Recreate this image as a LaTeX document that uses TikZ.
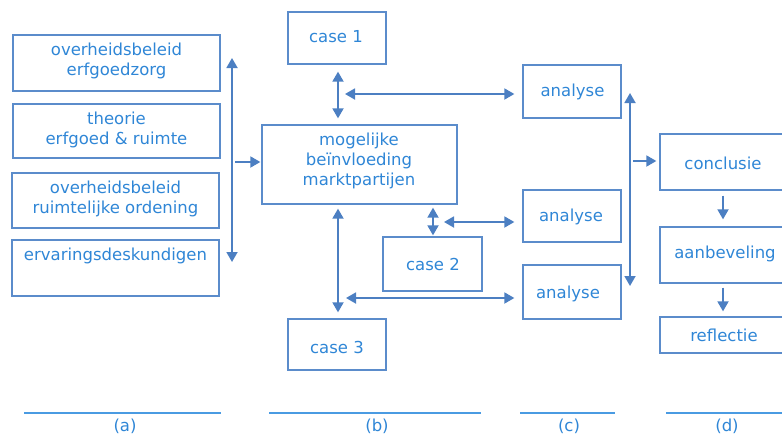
\documentclass[tikz,border=0pt]{standalone}
\usepackage{fontspec}
\setmainfont{DejaVu Sans}
\usetikzlibrary{arrows.meta,calc}
\definecolor{bordc}{HTML}{5B8CCB}
\definecolor{txtc}{HTML}{2F86D6}
\definecolor{arrc}{HTML}{4C7FC2}
\definecolor{linec}{HTML}{4A9BE2}
\begin{document}
\begin{tikzpicture}[x=1pt,y=-1pt,
  box/.style={draw=bordc,line width=1.3pt,inner sep=0pt},
  lbl/.style={text=txtc,font=\fontsize{16.5}{20}\selectfont,align=center,inner sep=0pt},
  dbl/.style={draw=arrc,line width=1.8pt,{Triangle[length=10pt,width=11pt]}-{Triangle[length=10pt,width=11pt]}},
  sgl/.style={draw=arrc,line width=1.8pt,-{Triangle[length=10pt,width=11pt]}},
  base/.style={draw=linec,line width=1.8pt}]
\clip (0,0) rectangle (782,434);
\useasboundingbox (0,0) rectangle (782,434);
% column (a)
\node[box,minimum width=207pt,minimum height=56pt] (a1) at (116.5,63) {};
\node[lbl] (ta1) at (116.5,61) {overheidsbeleid\\erfgoedzorg};
\node[box,minimum width=207pt,minimum height=54pt] (a2) at (116.5,131) {};
\node[lbl] (ta2) at (116.5,130) {theorie\\erfgoed \& ruimte};
\node[box,minimum width=207pt,minimum height=55pt] (a3) at (115.5,200.5) {};
\node[lbl] (ta3) at (115.5,199) {overheidsbeleid\\ruimtelijke ordening};
\node[box,minimum width=207pt,minimum height=56pt] (a4) at (115.5,268) {};
\node[lbl] (ta4) at (115.5,256) {ervaringsdeskundigen};
% column (b)
\node[box,minimum width=98pt,minimum height=52pt] (c1) at (337,38) {};
\node[lbl] (tc1) at (336,37) {case 1};
\node[box,minimum width=195pt,minimum height=79pt] (mog) at (359.5,164.5) {};
\node[lbl] (tmog) at (359,161) {mogelijke\\beïnvloeding\\marktpartijen};
\node[box,minimum width=99pt,minimum height=54pt] (c2) at (432.5,264) {};
\node[lbl] (tc2) at (433,264) {case 2};
\node[box,minimum width=98pt,minimum height=51pt] (c3) at (337,344.5) {};
\node[lbl] (tc3) at (337,347) {case 3};
% column (c)
\node[box,minimum width=98pt,minimum height=53pt] (an1) at (572,91.5) {};
\node[lbl] (tan1) at (572.5,92) {analyse};
\node[box,minimum width=98pt,minimum height=52pt] (an2) at (572,216) {};
\node[lbl] (tan2) at (571,217) {analyse};
\node[box,minimum width=98pt,minimum height=54pt] (an3) at (572,292) {};
\node[lbl] (tan3) at (568,294) {analyse};
% column (d)
\node[box,minimum width=128pt,minimum height=56pt] (con) at (724,162) {};
\node[lbl] (tcon) at (723,163) {conclusie};
\node[box,minimum width=128pt,minimum height=56pt] (aan) at (724,255) {};
\node[lbl] (taan) at (725,254) {aanbeveling};
\node[box,minimum width=128pt,minimum height=36pt] (ref) at (724,335) {};
\node[lbl] (tref) at (724,335) {reflectie};
% connectors (a)
\coordinate (va1) at (232,58);
\coordinate (va2) at (232,262);
\draw[dbl] (va1) -- (va2);
\coordinate (ra) at (235,162);
\draw[sgl,shorten >=1pt] (ra) -- (ra -| mog.west);
% connectors (b)
\coordinate (vb) at (338,0);
\draw[dbl,shorten <=7pt,shorten >=6pt] (c1.south -| vb) -- (mog.north -| vb);
\draw[dbl,shorten <=4pt,shorten >=6pt] (mog.south -| vb) -- (c3.north -| vb);
\coordinate (vc2) at (433,0);
\draw[dbl,shorten <=3pt,shorten >=1pt] (mog.south -| vc2) -- (c2.north -| vc2);
\coordinate (h1) at (345,94);
\draw[dbl,shorten >=8pt] (h1) -- (h1 -| an1.west);
\coordinate (h2) at (444,222);
\draw[dbl,shorten >=8pt] (h2) -- (h2 -| an2.west);
\coordinate (h3) at (346,298);
\draw[dbl,shorten >=8pt] (h3) -- (h3 -| an3.west);
% connectors (c)
\coordinate (vc1) at (630,93);
\coordinate (vc3) at (630,286);
\draw[dbl] (vc1) -- (vc3);
\coordinate (rc) at (633,161);
\draw[sgl,shorten >=3pt] (rc) -- (rc -| con.west);
% connectors (d)
\coordinate (vd) at (723,0);
\draw[sgl,shorten <=5pt,shorten >=7pt] (con.south -| vd) -- (aan.north -| vd);
\draw[sgl,shorten <=4pt,shorten >=5pt] (aan.south -| vd) -- (ref.north -| vd);
% bottom labels
\coordinate (la1) at (24,413); \coordinate (la2) at (221,413);
\coordinate (lb1) at (269,413); \coordinate (lb2) at (481,413);
\coordinate (lc1) at (520,413); \coordinate (lc2) at (615,413);
\coordinate (ld1) at (666,413); \coordinate (ld2) at (790,413);
\draw[base] (la1) -- (la2);
\draw[base] (lb1) -- (lb2);
\draw[base] (lc1) -- (lc2);
\draw[base] (ld1) -- (ld2);
\node[lbl] (la) at (125,426) {(a)};
\node[lbl] (lb) at (377,426) {(b)};
\node[lbl] (lc) at (569,426) {(c)};
\node[lbl] (ld) at (727,426) {(d)};
\end{tikzpicture}
\end{document}
